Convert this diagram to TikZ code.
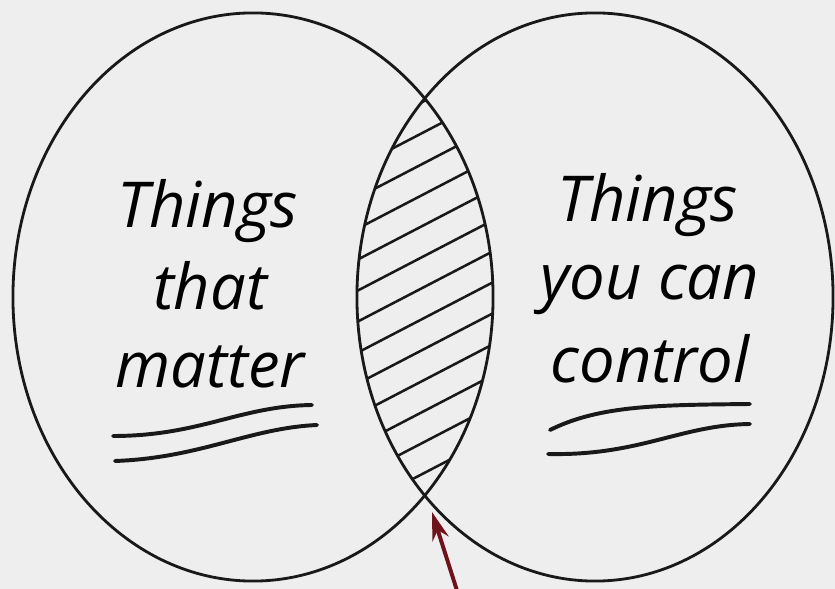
\documentclass[tikz,border=0pt]{standalone}
\usepackage{fontspec}
\setmainfont{Open Sans}
\usetikzlibrary{arrows.meta}
\definecolor{paper}{RGB}{238,238,238}
\definecolor{pointred}{RGB}{110,18,28}
\tikzset{
  outline/.style={line width=2pt, black!90},
  hatch/.style={line width=1.8pt, black!90},
  scrawl/.style={line width=2.8pt, black!90, line cap=round},
  words/.style={anchor=base, font=\fontsize{45}{56}\selectfont\itshape, inner sep=0pt},
  pointer/.style={line width=2.8pt, pointred, -{Stealth[length=20pt, width=12pt]}},
}
\begin{document}
\begin{tikzpicture}[x=0.025cm, y=-0.025cm]
  \useasboundingbox[fill=paper] (0,0) rectangle (835,589);
  \coordinate (matters) at (253,297);
  \coordinate (control) at (595,297);
  % the two sets
  \draw[outline] (matters) ellipse [x radius=6cm, y radius=7.1cm];
  \draw[outline] (control) ellipse [x radius=5.95cm, y radius=7.1cm];
  % shaded overlap
  \begin{scope}
    \clip (matters) ellipse [x radius=6cm, y radius=7.1cm];
    \clip (control) ellipse [x radius=5.95cm, y radius=7.1cm];
    \foreach \k in {0,...,14}
      \draw[hatch] (330, 150+\k*31) -- ++(200,-104);
  \end{scope}
  % labels
  \node[words] (m1) at (208,228) {Things};
  \node[words] (m2) at (210,310) {that};
  \node[words] (m3) at (210,388) {matter};
  \node[words] (c1) at (648,222) {Things};
  \node[words] (c2) at (650,300) {you can};
  \node[words] (c3) at (650,383) {control};
  % underlines
  \draw[scrawl] (113,436) .. controls (200,436) and (240,406) .. (312,405);
  \draw[scrawl] (115,461) .. controls (200,458) and (250,428) .. (317,425);
  \draw[scrawl] (550,430) .. controls (600,405) and (660,405) .. (750,404);
  \draw[scrawl] (548,454) .. controls (640,456) and (680,425) .. (750,424);
  % arrow to the overlap
  \coordinate (meet) at (432,512);
  \coordinate (tail) at (460,600);
  \draw[pointer] (tail) -- (meet);
\end{tikzpicture}
\end{document}
